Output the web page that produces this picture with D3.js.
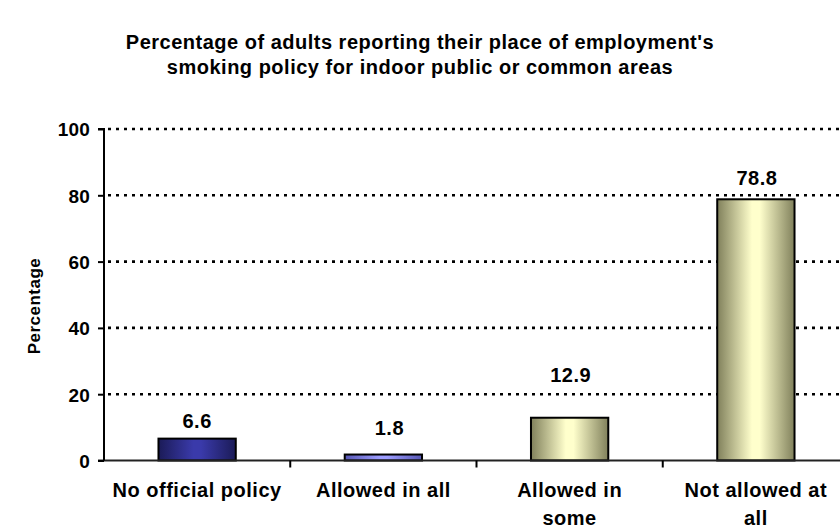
<!DOCTYPE html>
<html>
<head>
<meta charset="utf-8">
<script src="https://cdn.jsdelivr.net/npm/d3@7"></script>
<style>
  html, body { margin: 0; padding: 0; background: #fff; }
  svg { display: block; font-family: "Liberation Sans", Arial, sans-serif; font-weight: bold; }
</style>
</head>
<body>
<script>
// Workplace indoor smoking policy, percent of adults
const categories = ["No official policy", "Allowed in all", "Allowed in\nsome", "Not allowed at\nall"];
const values = [6.6, 1.8, 12.9, 78.8];
const yTicks = [0, 20, 40, 60, 80, 100];
const titleLines = [
  "Percentage of adults reporting their place of employment's",
  "smoking policy for indoor public or common areas"
];
const yAxisTitle = "Percentage";

const W = 840, H = 529;
const plot = { left: 104, right: 849, top: 129, bottom: 460.5 };

const svg = d3.select("body").append("svg").attr("width", W).attr("height", H);

// horizontal "cylinder" shading for each bar
const shades = [
  { edge: "#1b1b57", mid: "#3a3aaa" },
  { edge: "#5757b5", mid: "#9d9dff" },
  { edge: "#80805b", mid: "#ffffcc" },
  { edge: "#80805b", mid: "#ffffcc" }
];
const defs = svg.append("defs");
shades.forEach((s, i) => {
  const g = defs.append("linearGradient").attr("id", "shade" + i)
    .attr("x1", "0%").attr("x2", "100%").attr("y1", "0%").attr("y2", "0%");
  g.append("stop").attr("offset", "0%").attr("stop-color", s.edge);
  g.append("stop").attr("offset", "45%").attr("stop-color", s.mid);
  g.append("stop").attr("offset", "55%").attr("stop-color", s.mid);
  g.append("stop").attr("offset", "100%").attr("stop-color", s.edge);
});

const x = d3.scaleBand().domain(categories).range([plot.left, plot.right])
  .paddingInner(0.585).paddingOuter(0.2925);
const y = d3.scaleLinear().domain([0, 100]).range([plot.bottom, plot.top]);

// title
svg.append("g").selectAll("text").data(titleLines).join("text")
  .attr("x", 420).attr("y", (d, i) => 49 + i * 25)
  .attr("text-anchor", "middle")
  .style("font-size", "20px").style("letter-spacing", "0.5px")
  .text(d => d);

// dotted gridlines
svg.append("g").selectAll("line").data(yTicks.filter(t => t > 0)).join("line")
  .attr("x1", plot.left).attr("x2", W)
  .attr("y1", d => y(d)).attr("y2", d => y(d))
  .attr("stroke", "#000").attr("stroke-width", 2.6)
  .attr("stroke-dasharray", "3,5").attr("stroke-dashoffset", -4);

// bars
svg.append("g").selectAll("rect").data(values).join("rect")
  .attr("x", (d, i) => x(categories[i]))
  .attr("width", x.bandwidth())
  .attr("y", d => y(d))
  .attr("height", d => y(0) - y(d))
  .attr("fill", (d, i) => `url(#shade${i})`)
  .attr("stroke", "#000").attr("stroke-width", 2);

// x axis line and category separators
const xAxis = svg.append("g");
xAxis.append("line").attr("x1", plot.left - 6).attr("x2", W)
  .attr("y1", y(0)).attr("y2", y(0)).attr("stroke", "#222").attr("stroke-width", 2);
const step = x.step();
xAxis.selectAll("line.sep").data(d3.range(1, categories.length)).join("line")
  .attr("class", "sep")
  .attr("x1", k => plot.left + k * step).attr("x2", k => plot.left + k * step)
  .attr("y1", y(0)).attr("y2", y(0) + 7)
  .attr("stroke", "#000").attr("stroke-width", 2);

// category labels (explicit line breaks)
xAxis.selectAll("text").data(categories).join("text")
  .attr("text-anchor", "middle")
  .style("font-size", "20px").style("letter-spacing", "0.5px")
  .each(function (d) {
    const t = d3.select(this);
    d.split("\n").forEach((line, j) => {
      t.append("tspan").attr("x", x(d) + x.bandwidth() / 2).attr("y", 497 + j * 28).text(line);
    });
  });

// y axis
const yAxis = svg.append("g").attr("transform", `translate(${plot.left},0)`)
  .call(d3.axisLeft(y).tickValues(yTicks).tickSize(6).tickPadding(8).tickFormat(d3.format("d")));
yAxis.select(".domain").attr("stroke", "#000").attr("stroke-width", 2).attr("d", `M-6,${plot.top}H0V${plot.bottom}`);
yAxis.selectAll(".tick line").attr("stroke", "#000").attr("stroke-width", 2);
yAxis.selectAll(".tick text")
  .style("font-family", "'Liberation Sans', Arial, sans-serif")
  .style("font-weight", "bold").style("font-size", "19px").style("letter-spacing", "0.2px")
  .attr("fill", "#000").attr("dy", "0.36em");

// y axis title
svg.append("text")
  .attr("transform", "translate(40,306) rotate(-90)")
  .attr("text-anchor", "middle")
  .style("font-size", "17px").style("letter-spacing", "0.5px")
  .text(yAxisTitle);

// value labels above each bar
const labelNudge = [{ dx: 0, dy: 11 }, { dx: 6, dy: 20 }, { dx: 1, dy: 36 }, { dx: 1, dy: 14 }];
svg.append("g").selectAll("text").data(values).join("text")
  .attr("x", (d, i) => x(categories[i]) + x.bandwidth() / 2 + labelNudge[i].dx)
  .attr("y", (d, i) => y(d) - labelNudge[i].dy)
  .attr("text-anchor", "middle")
  .style("font-size", "20px").style("letter-spacing", "0.5px")
  .text(d => d3.format(".1f")(d));
</script>
</body>
</html>
